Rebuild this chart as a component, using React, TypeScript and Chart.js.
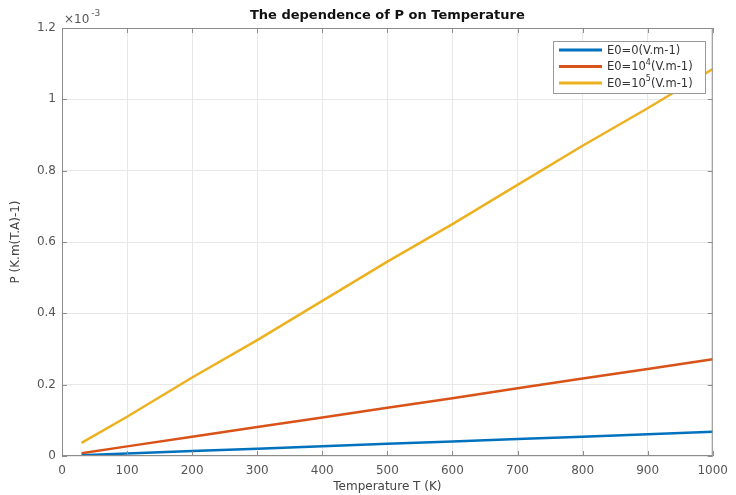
import React, { useEffect, useRef } from "react";
import { Chart, registerables } from "chart.js";
Chart.register(...registerables);

// Temperature (K)
const temperatures = [30, 100, 200, 300, 400, 500, 600, 700, 800, 900, 1000];
// P values in units of 1e-3
const pE0zero = [0.002, 0.007, 0.014, 0.02, 0.027, 0.034, 0.041, 0.048, 0.054, 0.061, 0.068];
const pE0e4 = [0.008, 0.027, 0.054, 0.081, 0.108, 0.135, 0.162, 0.19, 0.217, 0.244, 0.271];
const pE0e5 = [0.037, 0.11, 0.22, 0.325, 0.435, 0.545, 0.65, 0.76, 0.87, 0.975, 1.085];

const seriesBase = ["E0=0", "E0=10", "E0=10"];
const seriesSup = ["", "4", "5"];
const seriesTail = ["(V.m-1)", "(V.m-1)", "(V.m-1)"];
const seriesColors = ["#0072BD", "#D95319", "#EDB120"];

const titleText = "The dependence of P on Temperature";
const xTitle = "Temperature T (K)";
const yTitle = "P (K.m(T.A)-1)";
const xMin = 0;
const xMax = 1000;
const xStep = 100;
const yMin = 0;
const yMax = 1.2;
const yStep = 0.2;

const FONT = '"DejaVu Sans", "Liberation Sans", Arial, sans-serif';

const decorPlugin = {
  id: "decor",
  afterDraw(chart: any) {
    const { ctx, chartArea: ca, scales } = chart;
    const xs = scales.x;
    const ys = scales.y;
    ctx.save();
    // box
    ctx.strokeStyle = "#8c8c8c";
    ctx.lineWidth = 1;
    ctx.strokeRect(ca.left + 0.5, ca.top + 0.5, ca.right - ca.left - 1, ca.bottom - ca.top - 1);
    // inner ticks
    ctx.beginPath();
    for (let v = xMin; v <= xMax; v += xStep) {
      const px = Math.round(xs.getPixelForValue(v)) + 0.5;
      ctx.moveTo(px, ca.bottom);
      ctx.lineTo(px, ca.bottom - 5);
      ctx.moveTo(px, ca.top);
      ctx.lineTo(px, ca.top + 5);
    }
    for (let i = 0; i <= Math.round((yMax - yMin) / yStep); i++) {
      const v = yMin + i * yStep;
      const py = Math.round(ys.getPixelForValue(v)) + 0.5;
      ctx.moveTo(ca.left, py);
      ctx.lineTo(ca.left + 5, py);
      ctx.moveTo(ca.right, py);
      ctx.lineTo(ca.right - 5, py);
    }
    ctx.stroke();

    // title
    ctx.fillStyle = "#111";
    ctx.font = `bold 13px ${FONT}`;
    ctx.textAlign = "center";
    ctx.textBaseline = "middle";
    ctx.fillText(titleText, (ca.left + ca.right) / 2, ca.top - 12);

    // exponent
    ctx.fillStyle = "#555";
    ctx.textAlign = "left";
    ctx.font = `12px ${FONT}`;
    ctx.fillText("\u00d710", ca.left + 2, ca.top - 8);
    const w10 = ctx.measureText("\u00d710").width;
    ctx.font = `9px ${FONT}`;
    ctx.fillText("-3", ca.left + 4 + w10, ca.top - 14);

    // axis titles
    ctx.font = `12px ${FONT}`;
    ctx.fillStyle = "#444";
    ctx.textAlign = "center";
    ctx.fillText(xTitle, (ca.left + ca.right) / 2, ca.bottom + 31);
    ctx.save();
    ctx.translate(16, (ca.top + ca.bottom) / 2);
    ctx.rotate(-Math.PI / 2);
    ctx.fillText(yTitle, 0, 0);
    ctx.restore();

    // legend
    const lx = 553, ly = 41, lw = 152, lh = 52;
    ctx.fillStyle = "#fff";
    ctx.fillRect(lx, ly, lw, lh);
    ctx.strokeStyle = "#999";
    ctx.lineWidth = 1;
    ctx.strokeRect(lx + 0.5, ly + 0.5, lw, lh);
    for (let i = 0; i < seriesBase.length; i++) {
      const y = ly + 9 + i * 16.5;
      ctx.strokeStyle = seriesColors[i];
      ctx.lineWidth = 3;
      ctx.beginPath();
      ctx.moveTo(lx + 6, y);
      ctx.lineTo(lx + 49, y);
      ctx.stroke();
      ctx.fillStyle = "#333";
      ctx.textAlign = "left";
      ctx.textBaseline = "middle";
      ctx.font = `11.5px ${FONT}`;
      let tx = lx + 54;
      ctx.fillText(seriesBase[i], tx, y + 1);
      tx += ctx.measureText(seriesBase[i]).width;
      if (seriesSup[i]) {
        ctx.font = `8px ${FONT}`;
        ctx.fillText(seriesSup[i], tx, y - 4);
        tx += ctx.measureText(seriesSup[i]).width;
        ctx.font = `11.5px ${FONT}`;
      }
      ctx.fillText(seriesTail[i], tx, y + 1);
    }
    ctx.restore();
  },
};

export default function App() {
  const ref = useRef<HTMLCanvasElement>(null);
  useEffect(() => {
    if (!ref.current) return;
    const mk = (vals: number[]) => temperatures.map((t, i) => ({ x: t, y: vals[i] }));
    const chart = new Chart(ref.current, {
      type: "line",
      data: {
        datasets: [
          { data: mk(pE0zero), borderColor: seriesColors[0], borderWidth: 2.5, pointRadius: 0, fill: false },
          { data: mk(pE0e4), borderColor: seriesColors[1], borderWidth: 2.5, pointRadius: 0, fill: false },
          { data: mk(pE0e5), borderColor: seriesColors[2], borderWidth: 2.5, pointRadius: 0, fill: false },
        ],
      },
      options: {
        animation: false,
        responsive: false,
        layout: { padding: { left: 0, right: 17, top: 28, bottom: 0 } },
        plugins: { legend: { display: false }, title: { display: false }, tooltip: { enabled: false } },
        scales: {
          x: {
            type: "linear",
            min: xMin,
            max: xMax,
            afterFit: (s: any) => { s.height = 39; },
            grid: { color: "#e8e8e8", drawTicks: false },
            border: { display: false },
            ticks: {
              stepSize: xStep,
              padding: 8,
              color: "#555",
              font: { family: FONT, size: 12 },
              callback: (v: any) => String(v),
            },
          },
          y: {
            type: "linear",
            min: yMin,
            max: yMax,
            afterFit: (s: any) => { s.width = 62; },
            grid: { color: "#e8e8e8", drawTicks: false },
            border: { display: false },
            ticks: {
              stepSize: yStep,
              padding: 6,
              color: "#555",
              font: { family: FONT, size: 12 },
              callback: (v: any) => String(Math.round(Number(v) * 10) / 10),
            },
          },
        },
      },
      plugins: [decorPlugin],
    });
    return () => chart.destroy();
  }, []);
  return (
    <div style={{ position: "fixed", left: 0, top: 0, width: 736, height: 495, background: "#fff" }}>
      <canvas ref={ref} width={736} height={495} style={{ display: "block" }} />
    </div>
  );
}
